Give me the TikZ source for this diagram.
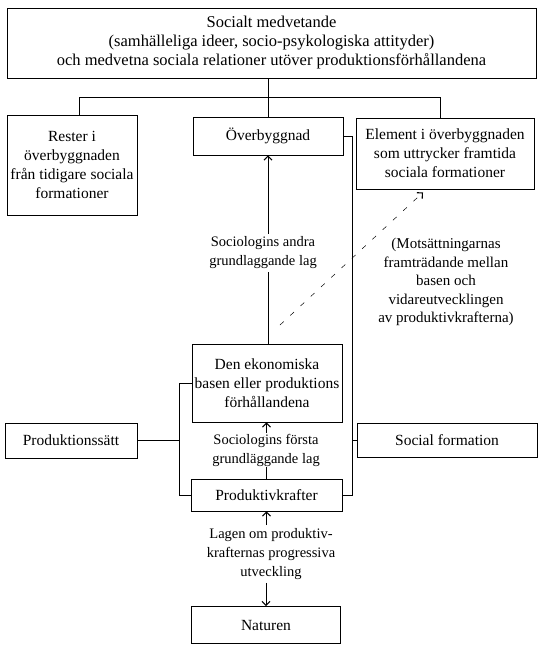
\documentclass[tikz,border=0pt]{standalone}
\usepackage{fontspec}
\setmainfont{Liberation Serif}
\usetikzlibrary{arrows.meta,calc}
\tikzset{
  box/.style={draw, line width=0.8pt, align=center, inner sep=0pt,
    font=\fontsize{15.5}{19}\selectfont},
  lbl/.style={align=center, inner xsep=2pt, inner ysep=3pt,
    font=\fontsize{14.5}{19}\selectfont},
  conn/.style={line width=0.7pt},
  arr/.style={line width=0.7pt, -{Straight Barb[length=4pt,width=8pt,line width=1.1pt]}},
}
\begin{document}
\begin{tikzpicture}[x=1pt,y=-1pt]
\useasboundingbox (0,0) rectangle (543,651);
\node[box, minimum width=529pt, minimum height=70pt, font=\fontsize{16.5}{19}\selectfont] (top) at (271.5,43)
  {Socialt medvetande\\(samhälleliga ideer, socio-psykologiska attityder)\\och medvetna sociala relationer utöver produktionsförhållandena};
\node[box, minimum width=130pt, minimum height=100pt] (rest) at (72,165)
  {Rester i\\överbyggnaden\\från tidigare sociala\\formationer};
\node[box, minimum width=150pt, minimum height=38pt] (over) at (268,136) {Överbyggnad};
\node[box, minimum width=178pt, minimum height=71pt] (elem) at (445,153.5)
  {Element i överbyggnaden\\som uttrycker framtida\\sociala formationer};
\node[box, minimum width=150pt, minimum height=78pt] (base) at (267,383)
  {Den ekonomiska\\basen eller produktions\\förhållandena};
\node[box, minimum width=132pt, minimum height=35pt] (prods) at (71,440.5) {Produktionssätt};
\node[box, minimum width=180pt, minimum height=34pt] (socf) at (447,440) {Social formation};
\node[box, minimum width=151pt, minimum height=32pt] (prodk) at (266.5,495) {Produktivkrafter};
\node[box, minimum width=149pt, minimum height=37pt] (nat) at (266,625) {Naturen};

\node[lbl] (l2) at (263,253) {Sociologins andra\\grundlaggande lag};
\node[lbl, font=\fontsize{15}{18.5}\selectfont] (lmot) at (446,282) {(Motsättningarnas\\framträdande mellan\\basen och\\vidareutvecklingen\\av produktivkrafterna)};
\node[lbl, inner ysep=1pt] (l1) at (266,450) {Sociologins första\\grundläggande lag};
\node[lbl] (l3) at (271,554) {Lagen om produktiv-\\krafternas progressiva\\utveckling};

% tree from the top box
\coordinate (j) at (268,97);
\draw[conn] (over.north) -- (over.north |- top.south);
\draw[conn] ([xshift=7pt]rest.north) -- ([xshift=7pt]rest.north |- j)
  -- ([xshift=-5pt]elem.north |- j) -- ([xshift=-5pt]elem.north);

% right bracket
\draw[conn] (over.east) -- ++(9,0) coordinate (rt) -- (rt |- prodk.east) -- (prodk.east);
\draw[conn] (socf.west) -- (socf.west -| rt);

% left bracket
\draw[conn] (base.west) -- ++(-12,0) coordinate (lt) -- (lt |- prodk.west) -- (prodk.west);
\draw[conn] (prods.east) -- (prods.east -| lt);

% laws
\draw[conn] (over.south |- base.north) -- (over.south |- l2.south);
\draw[arr] (over.south |- l2.north) -- (over.south);
\draw[conn] (prodk.north) -- (prodk.north |- l1.south);
\draw[arr] (prodk.north |- l1.north) -- (prodk.north |- base.south);
\draw[arr] (prodk.south |- l3.north) -- (prodk.south);
\draw[arr] (nat.north |- l3.south) -- (nat.north);

% dashed contradiction arrow
\coordinate (ds) at (280,325);
\draw[arr, line width=0.5pt, dash pattern=on 5pt off 9pt] (ds) -- ([xshift=-22pt,yshift=-3pt]elem.south);
\end{tikzpicture}
\end{document}
